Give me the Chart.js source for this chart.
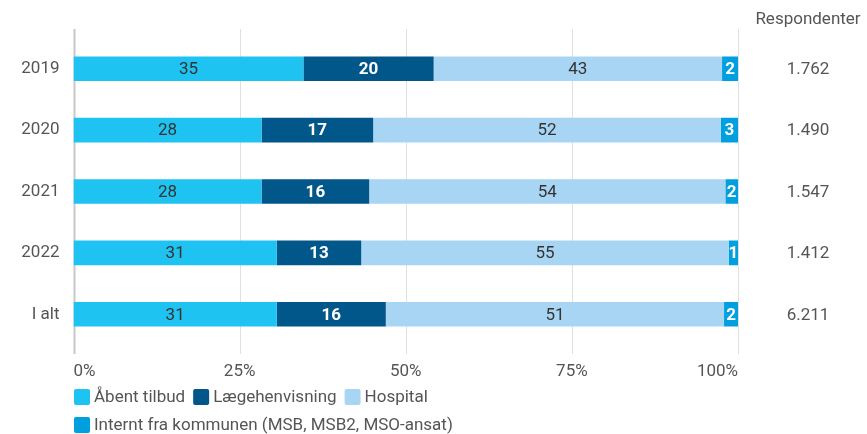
<!DOCTYPE html>
<html>
<head>
<meta charset="utf-8">
<script src="https://cdn.jsdelivr.net/npm/chart.js@4/dist/chart.umd.min.js"></script>
<style>
html,body{margin:0;padding:0;background:#fff;}
#wrap{position:relative;width:867px;height:434px;}
</style>
</head>
<body>
<div id="wrap"><canvas id="c" width="867" height="434"></canvas></div>
<script>
const categories = ['2019', '2020', '2021', '2022', 'I alt'];
const abentTilbud = [34.6, 28.3, 28.3, 30.6, 30.6];
const laegehenvisning = [19.6, 16.8, 16.2, 12.7, 16.4];
const hospital = [43.4, 52.3, 53.6, 55.3, 50.9];
const internt = [2.4, 2.6, 1.9, 1.4, 2.1];
const respondenter = ['1.762', '1.490', '1.547', '1.412', '6.211'];
const seriesNames = ['Åbent tilbud', 'Lægehenvisning', 'Hospital', 'Internt fra kommunen (MSB, MSB2, MSO-ansat)'];
const colors = ['#1fc3f1', '#02578a', '#a8d5f3', '#009fdf'];
const labelColors = ['#333333', '#ffffff', '#333333', '#ffffff'];
const labelBold = [false, true, false, true];
const xTicks = [0, 25, 50, 75, 100];

const FONT = 'Roboto, "Liberation Sans", sans-serif';
const FS = 17;

const gridPlugin = {
  id: 'gridExt',
  beforeDatasetsDraw(chart) {
    const ctx = chart.ctx, xs = chart.scales.x, a = chart.chartArea;
    ctx.save();
    xTicks.forEach(t => {
      const x = Math.round(xs.getPixelForValue(t)) + 0.5;
      ctx.strokeStyle = t === 0 ? '#c8c8c8' : '#e0e0e0';
      ctx.lineWidth = t === 0 ? 2 : 1;
      ctx.beginPath();
      ctx.moveTo(x, a.top - 9);
      ctx.lineTo(x, a.bottom + 9);
      ctx.stroke();
    });
    ctx.restore();
  }
};

const labelPlugin = {
  id: 'segLabels',
  afterDatasetsDraw(chart) {
    const ctx = chart.ctx;
    ctx.save();
    ctx.textAlign = 'center';
    ctx.textBaseline = 'middle';
    chart.data.datasets.forEach((ds, di) => {
      const meta = chart.getDatasetMeta(di);
      meta.data.forEach((el, i) => {
        const v = ds.data[i];
        const cx = (el.x + el.base) / 2;
        ctx.fillStyle = labelColors[di];
        ctx.font = (labelBold[di] ? 'bold ' : '') + FS + 'px ' + FONT;
        ctx.fillText(String(Math.round(v)), cx, el.y + 1);
      });
    });
    // Respondenter column
    const ys = chart.scales.y;
    ctx.fillStyle = '#555555';
    ctx.font = FS + 'px ' + FONT;
    respondenter.forEach((r, i) => {
      ctx.fillText(r, 808, ys.getPixelForValue(i) + 1);
    });
    ctx.fillText('Respondenter', 808, 20);
    // Legend
    const rows = [[0, 1, 2], [3]];
    const rowY = [397, 425];
    ctx.textAlign = 'left';
    ctx.font = FS + 'px ' + FONT;
    rows.forEach((row, ri) => {
      let x = 74;
      row.forEach(si => {
        ctx.fillStyle = colors[si];
        ctx.beginPath();
        ctx.roundRect(x, rowY[ri] - 8, 16, 16, 2);
        ctx.fill();
        x += 20;
        ctx.fillStyle = '#555555';
        ctx.fillText(seriesNames[si], x, rowY[ri] + 1);
        x += ctx.measureText(seriesNames[si]).width + 8;
      });
    });
    ctx.restore();
  }
};

const datasets = [abentTilbud, laegehenvisning, hospital, internt].map((d, i) => ({
  label: seriesNames[i],
  data: d,
  backgroundColor: colors[i],
  borderWidth: 0,
  categoryPercentage: 0.4,
  barPercentage: 1.0
}));

new Chart(document.getElementById('c'), {
  type: 'bar',
  data: { labels: categories, datasets },
  options: {
    indexAxis: 'y',
    responsive: false,
    animation: false,
    layout: { padding: { top: 38, right: 129, left: 0, bottom: 0 } },
    plugins: { legend: { display: false }, tooltip: { enabled: false } },
    scales: {
      x: {
        stacked: true,
        min: 0, max: 100,
        afterBuildTicks(s) { s.ticks = xTicks.map(v => ({ value: v })); },
        afterFit(s) { s.height = 89; },
        grid: { display: false },
        border: { display: false },
        ticks: {
          padding: 9,
          align: 'inner',
          color: '#555555',
          font: { family: FONT, size: FS },
          callback: v => v + '%'
        }
      },
      y: {
        stacked: true,
        afterFit(s) { s.width = 73.5; },
        grid: { display: false },
        border: { display: false },
        ticks: {
          padding: 6,
          color: '#555555',
          font: { family: FONT, size: FS }
        }
      }
    }
  },
  plugins: [gridPlugin, labelPlugin]
});
</script>
</body>
</html>
